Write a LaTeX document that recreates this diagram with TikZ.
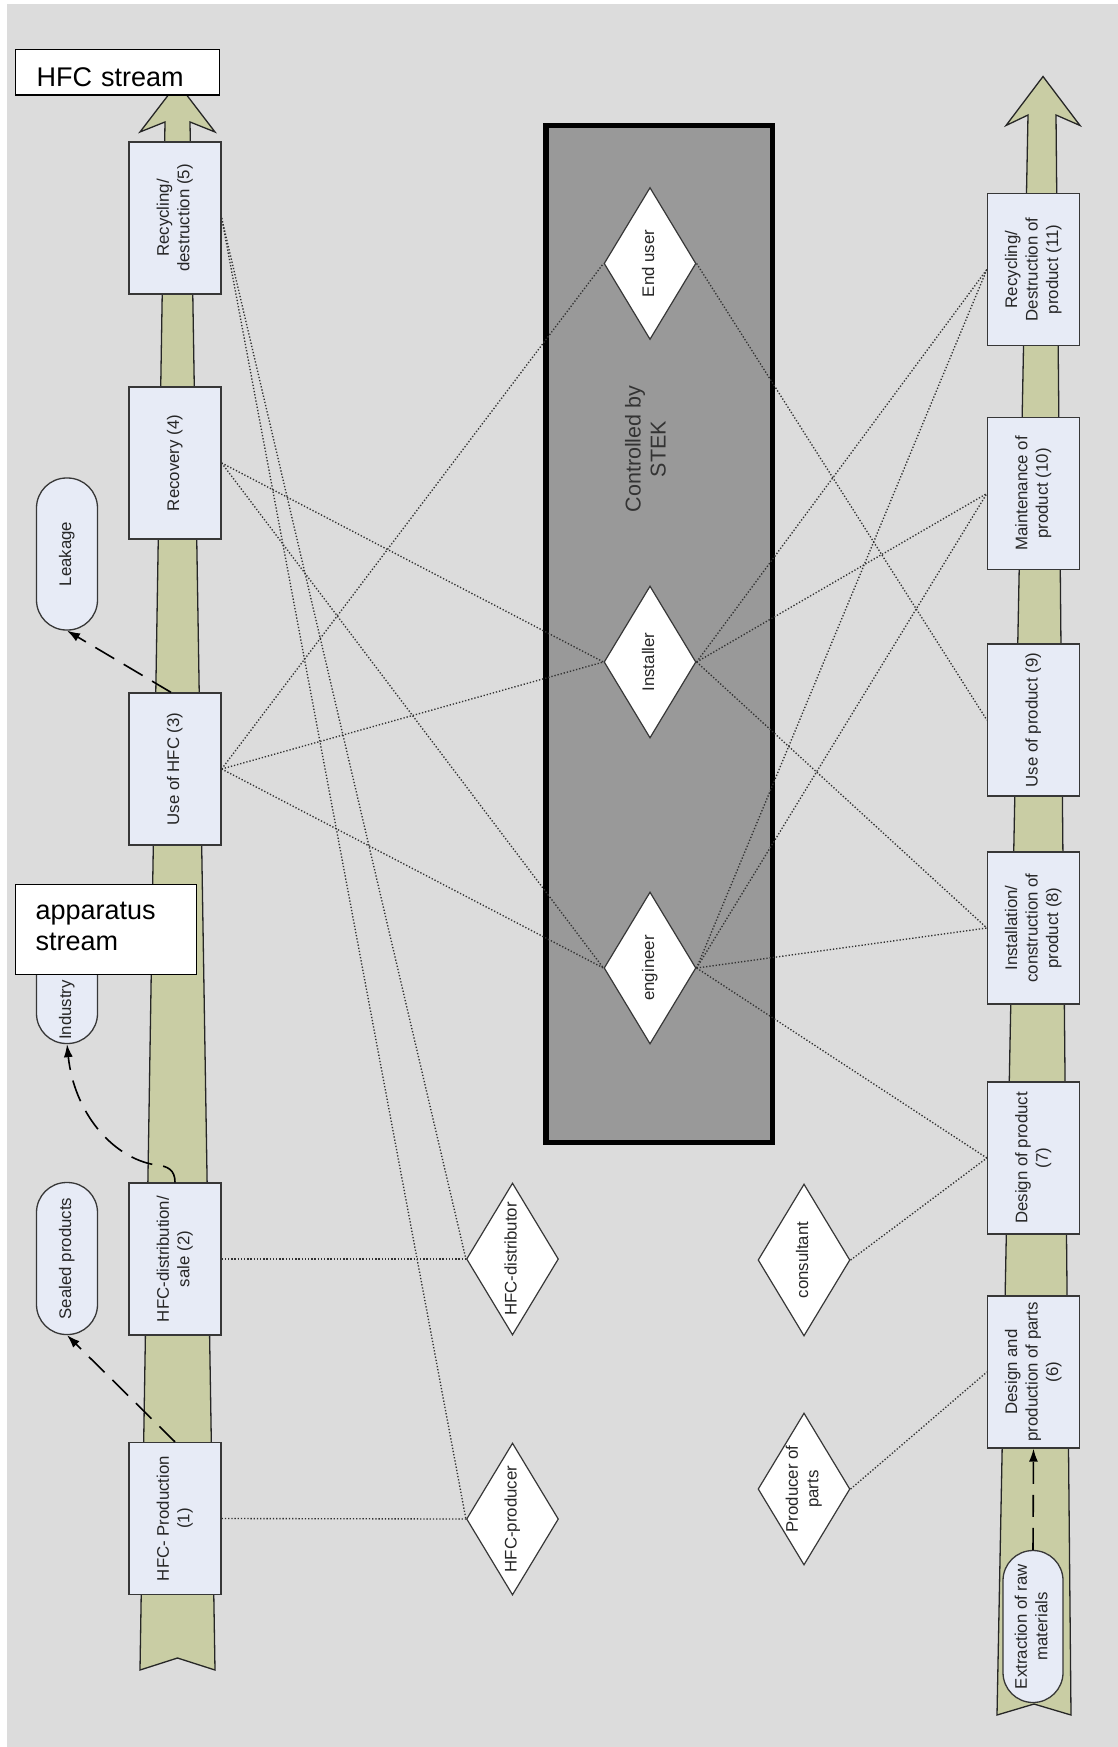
\documentclass[tikz,border=0pt]{standalone}
\usepackage{fontspec}
\setmainfont{Liberation Sans}
\usetikzlibrary{shapes.geometric,arrows.meta}

\definecolor{bgc}{RGB}{220,220,220}
\definecolor{boxc}{RGB}{231,235,246}
\definecolor{shaftc}{RGB}{201,205,164}
\definecolor{stekc}{RGB}{153,153,153}
\definecolor{linec}{RGB}{55,55,55}
\definecolor{dotc}{RGB}{50,50,50}

% vertical (bottom-to-top) multi-line text
\newcommand\vtxt[1]{\rotatebox{90}{\begin{tabular}{@{}c@{}}#1\end{tabular}}}
% same, but taking no vertical room (so a diamond keeps its own size)
\newcommand\vtxtz[1]{\rotatebox{90}{\makebox[0pt]{\begin{tabular}{@{}c@{}}#1\end{tabular}}}}
\newcommand\smallfnt{\fontsize{16.8}{20.5}\selectfont}

\tikzset{
  stage/.style={rectangle, draw=linec, fill=boxc, line width=1.3pt,
    minimum width=92pt, minimum height=152pt, inner sep=0pt,
    font=\smallfnt, text=black!85},
  role/.style={diamond, draw=linec, fill=white, line width=1.2pt,
    minimum width=92pt, minimum height=152pt, inner sep=0pt,
    font=\smallfnt, text=black!85},
  pill/.style={rectangle, rounded corners=30pt, draw=linec, fill=boxc,
    line width=1.3pt, minimum width=61pt, minimum height=152pt,
    inner sep=0pt, font=\smallfnt, text=black!85},
  shaft/.style={fill=shaftc, draw=black!85, line width=1.3pt, line join=miter},
  stekbox/.style={rectangle, draw=black, fill=stekc, line width=5.5pt,
    minimum width=226.5pt, minimum height=1016.5pt, inner sep=0pt},
  link/.style={draw=dotc, line width=1.35pt, dash pattern=on 1.3pt off 1.9pt},
  flow/.style={draw=black, line width=1.6pt, dash pattern=on 22pt off 11pt,
    -{Latex[length=13pt,width=9pt]}},
  tag/.style={rectangle, draw=black, fill=white, line width=1.3pt,
    inner ysep=0pt, align=left, anchor=north west,
    font=\fontsize{27}{31.6}\selectfont},
}

\begin{document}
\begin{tikzpicture}[x=1pt, y=-1pt]
\useasboundingbox (0,0) rectangle (1118,1747);
\fill[white] (0,0) rectangle (1118,1747);
\fill[bgc] (7,4) rectangle (1118,1747);

% the two streams (tapered arrows with notched tails)
\draw[shaft] (140,1670) -- (177.5,1658) -- (215,1670) -- (190,122)
  -- (215,132) -- (177.5,83) -- (140,132) -- (165,122) -- cycle;
\draw[shaft] (997,1715) -- (1034,1704) -- (1071,1715) -- (1056,115)
  -- (1080,125.5) -- (1043,76.5) -- (1006,125.5) -- (1028,115) -- cycle;

% HFC stream stages
\node[stage] (p5) at (175,218)    {\vtxt{Recycling/\\destruction (5)}};
\node[stage] (p4) at (175,463)    {\vtxt{Recovery (4)}};
\node[stage] (p3) at (175,769)    {\vtxt{Use of HFC (3)}};
\node[stage] (p2) at (175,1259)   {\vtxt{HFC-distribution/\\sale (2)}};
\node[stage] (p1) at (175,1518.5) {\vtxt{HFC- Production\\(1)}};

% apparatus stream stages
\node[stage] (p11) at (1033.5,269.5) {\vtxt{Recycling/\\Destruction of\\product (11)}};
\node[stage] (p10) at (1033.5,493.5) {\vtxt{Maintenance of\\product (10)}};
\node[stage] (p9)  at (1033.5,720)   {\vtxt{Use of product (9)}};
\node[stage] (p8)  at (1033.5,928)   {\vtxt{Installation/\\construction of\\product (8)}};
\node[stage] (p7)  at (1033.5,1158)  {\vtxt{Design of product\\(7)}};
\node[stage] (p6)  at (1033.5,1372)  {\vtxt{Design and\\production of parts\\(6)}};

% side outputs / inputs
\node[pill] (leak)     at (67,554)    {\vtxt{Leakage}};
\node[pill] (industry) at (67,967.5)  {};
\node[font=\smallfnt, text=black!85, inner sep=0pt] (industrytxt) at (67,1010) {\vtxt{Industry}};
\node[pill] (sealed)   at (67,1258.5) {\vtxt{Sealed products}};
\node[pill, minimum width=60pt] (extract) at (1033,1626.5) {\vtxt{Extraction of raw\\materials}};

% actors under STEK control
\node[stekbox] (stek) at (659,634) {};
\node[font=\fontsize{21.5}{25}\selectfont, text=black!80, inner sep=0pt] (stektitle)
  at (648,449) {\vtxt{Controlled by\\STEK}};

\node[role] (enduser)   at (650,263.5) {\vtxtz{End user}};
\node[role] (installer) at (650,662)   {\vtxtz{Installer}};
\node[role] (engineer)  at (650,968)   {\vtxtz{engineer}};

% other actors
\node[role] (distributor) at (512.5,1259) {\vtxtz{HFC-distributor}};
\node[role] (producer)    at (512.5,1519) {\vtxtz{HFC-producer}};
\node[role] (consultant)  at (804,1260)   {\vtxtz{consultant}};
\node[role] (partsmaker)  at (804,1489)   {\vtxtz{Producer of\\parts}};

% responsibilities
\draw[link] (p5.east) -- (distributor.west);
\draw[link] (p5.east) -- (producer.west);
\draw[link] (p4.east) -- (installer.west);
\draw[link] (p4.east) -- (engineer.west);
\draw[link] (p3.east) -- (enduser.west);
\draw[link] (p3.east) -- (installer.west);
\draw[link] (p3.east) -- (engineer.west);
\draw[link] (p2.east) -- (distributor.west);
\draw[link] (p1.east) -- (producer.west);
\draw[link] (enduser.east) -- (p9.west);
\draw[link] (installer.east) -- (p11.west);
\draw[link] (installer.east) -- (p10.west);
\draw[link] (installer.east) -- (p8.west);
\draw[link] (engineer.east) -- (p11.west);
\draw[link] (engineer.east) -- (p10.west);
\draw[link] (engineer.east) -- (p8.west);
\draw[link] (engineer.east) -- (p7.west);
\draw[link] (consultant.east) -- (p7.west);
\draw[link] (partsmaker.east) -- (p6.west);

% material flows leaving / entering the streams
\draw[flow] ([xshift=-4pt]p3.north) -- (leak.south);
\draw[flow] (p2.north) .. controls (175,1170) and (168,1166) .. (156,1165)
  .. controls (112,1158) and (74,1112) .. (industry.south);
\draw[flow] (p1.north) -- (sealed.south);
\draw[flow] (extract.north) -- (p6.south);

% stream captions
\node[tag, inner xsep=21pt, text width=162pt, text height=37pt, text depth=8.5pt]
  (hfctag) at (15,49) {HFC stream};
\node[tag, inner xsep=20pt, text width=141pt, text height=34.4pt, text depth=55.6pt]
  (apptag) at (15,884) {apparatus\\stream};
\end{tikzpicture}
\end{document}
